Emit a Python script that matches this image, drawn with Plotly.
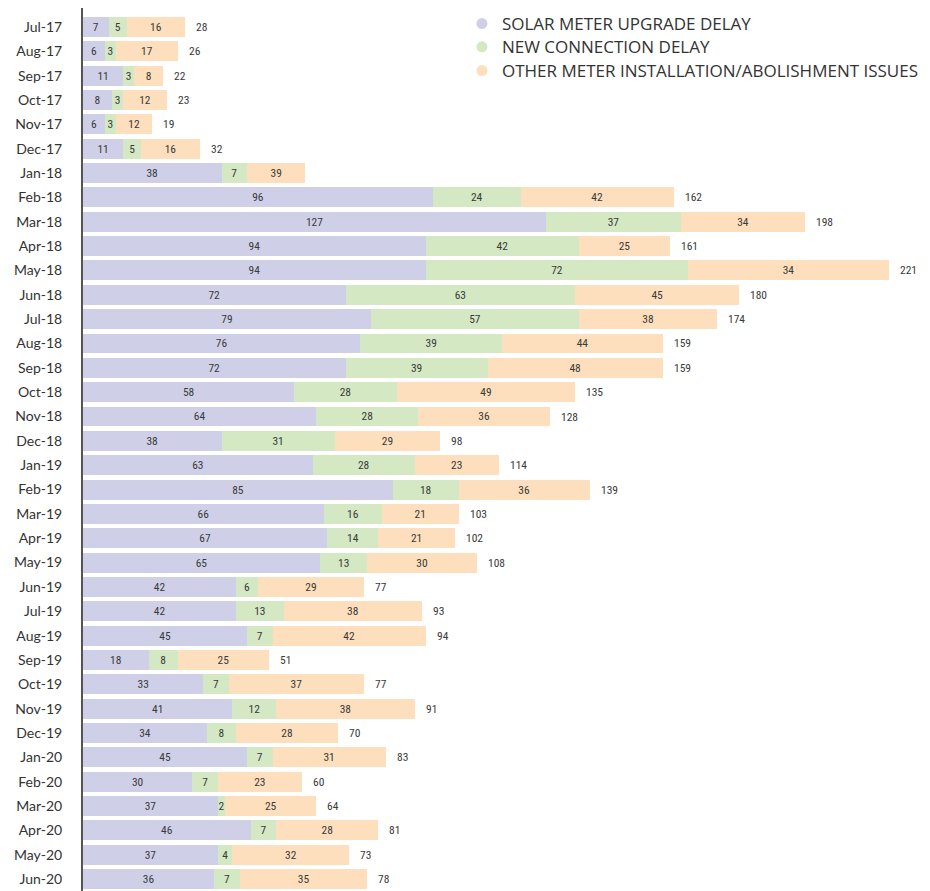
import plotly.graph_objects as go

months = ["Jul-17", "Aug-17", "Sep-17", "Oct-17", "Nov-17", "Dec-17", "Jan-18", "Feb-18", "Mar-18",
          "Apr-18", "May-18", "Jun-18", "Jul-18", "Aug-18", "Sep-18", "Oct-18", "Nov-18", "Dec-18",
          "Jan-19", "Feb-19", "Mar-19", "Apr-19", "May-19", "Jun-19", "Jul-19", "Aug-19", "Sep-19",
          "Oct-19", "Nov-19", "Dec-19", "Jan-20", "Feb-20", "Mar-20", "Apr-20", "May-20", "Jun-20"]

# drawn bar lengths (as in the picture)
solar = [7, 6, 11, 8, 6, 11, 38, 96, 127, 94, 94, 72, 79, 76, 72, 58, 64, 38,
         63, 85, 66, 67, 65, 42, 42, 45, 18, 33, 41, 34, 45, 30, 37, 46, 37, 36]
new_conn = [5, 3, 3, 3, 3, 5, 7, 24, 37, 42, 72, 63, 57, 39, 39, 28, 28, 31,
            28, 18, 16, 14, 13, 6, 13, 7, 8, 7, 12, 8, 7, 7, 2, 7, 4, 7]
other = [16, 17, 8, 12, 10, 16, 16, 42, 34, 25, 55, 45, 38, 44, 48, 49, 36, 29,
         23, 36, 21, 21, 30, 29, 38, 42, 25, 37, 38, 28, 31, 23, 25, 28, 32, 35]
# printed labels
other_labels = [16, 17, 8, 12, 12, 16, 39, 42, 34, 25, 34, 45, 38, 44, 48, 49, 36, 29,
                23, 36, 21, 21, 30, 29, 38, 42, 25, 37, 38, 28, 31, 23, 25, 28, 32, 35]
totals = ["28", "26", "22", "23", "19", "32", "", "162", "198", "161", "221", "180", "174", "159",
          "159", "135", "128", "98", "114", "139", "103", "102", "108", "77", "93", "94", "51", "77",
          "91", "70", "83", "60", "64", "81", "73", "78"]

series_names = ["SOLAR METER UPGRADE DELAY", "NEW CONNECTION DELAY",
                "OTHER METER INSTALLATION/ABOLISHMENT ISSUES"]
colors = ["#cfd0e8", "#d3e8c3", "#fddfbd"]

num_font = dict(family="Liberation Sans Narrow, Roboto Condensed, Lato, sans-serif", size=11.5, color="#3a3a3a")

fig = go.Figure()
for vals, labels, name, col in [(solar, solar, series_names[0], colors[0]),
                                (new_conn, new_conn, series_names[1], colors[1]),
                                (other, other_labels, series_names[2], colors[2])]:
    fig.add_trace(go.Bar(
        y=months, x=vals, orientation="h", marker=dict(color=col, line=dict(width=0)),
        text=[str(v) for v in labels], textposition="inside", insidetextanchor="middle",
        textangle=0, textfont=num_font, showlegend=False, hoverinfo="skip", name=name))

ends = [a + b + c for a, b, c in zip(solar, new_conn, other)]
annotations = [dict(x=e, y=m, xref="x", yref="y", text=t, showarrow=False,
                    xanchor="left", yanchor="middle", xshift=9, font=num_font)
               for e, m, t in zip(ends, months, totals) if t]

legend_ids = ["legend", "legend2", "legend3"]
for name, col, lid in zip(series_names, colors, legend_ids):
    fig.add_trace(go.Scatter(
        x=[None], y=[None], mode="markers", name=name, legend=lid,
        marker=dict(symbol="circle", size=11, color=col)))

legend_style = dict(x=0.4474, xanchor="left", yanchor="middle",
                    font=dict(family="Open Sans, sans-serif", size=17, color="#333333"),
                    itemwidth=30, bgcolor="rgba(0,0,0,0)")

fig.update_layout(
    width=922, height=883, barmode="stack", bargap=0.18,
    plot_bgcolor="white", paper_bgcolor="white",
    margin=dict(l=75, r=0, t=0, b=0, autoexpand=False),
    uniformtext=dict(minsize=11, mode="show"),
    font=dict(family="Lato, Open Sans, sans-serif", color="#333333"),
    annotations=annotations,
    legend=dict(y=0.9819, **legend_style),
    legend2=dict(y=0.9555, **legend_style),
    legend3=dict(y=0.9287, **legend_style),
    xaxis=dict(range=[0, 232.3], visible=False, showgrid=False, zeroline=False, automargin=False),
    yaxis=dict(type="category", categoryorder="array", categoryarray=months,
               range=[35.49, -0.78], showgrid=False, zeroline=False, automargin=False,
               showline=True, linecolor="#555555", linewidth=2,
               ticks="", ticklabelstandoff=16,
               tickfont=dict(family="Lato, sans-serif", size=14, color="#333333")),
)

fig.write_html("out.html")
